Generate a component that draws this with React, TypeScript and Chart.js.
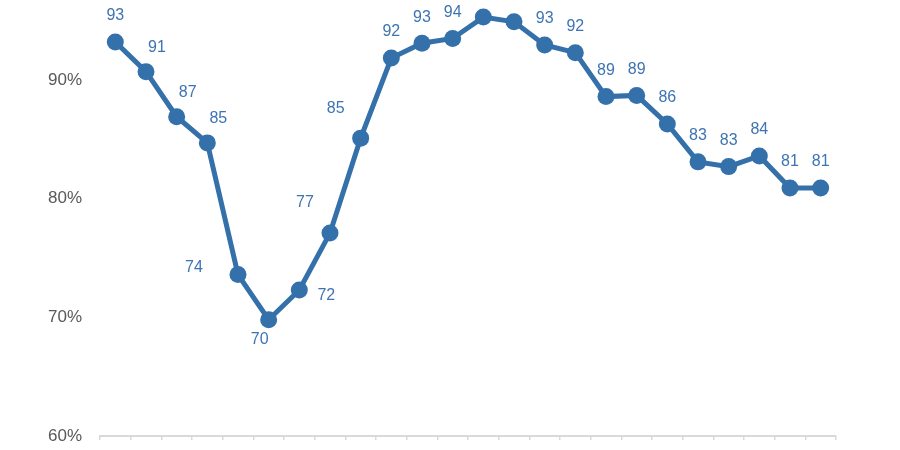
import React, { useEffect, useRef } from "react";
import { Chart, registerables } from "chart.js";

Chart.register(...registerables);

const categories: string[] = [
  "1", "2", "3", "4", "5", "6", "7", "8", "9", "10", "11", "12",
  "13", "14", "15", "16", "17", "18", "19", "20", "21", "22", "23", "24",
];

const values: number[] = [
  93.2, 90.7, 86.9, 84.7, 73.6, 69.8, 72.3, 77.1, 85.1, 91.85, 93.1, 93.5,
  95.3, 94.9, 92.95, 92.3, 88.6, 88.7, 86.3, 83.1, 82.7, 83.6, 80.9, 80.9,
];

const labelPlacement: string[] = [
  "above", "aboveRight", "aboveRight", "aboveRight", "left", "below", "right", "aboveLeft",
  "aboveLeft", "above", "above", "above", "above", "above", "above", "above",
  "above", "above", "above", "above", "above", "above", "above", "above",
];

const yTicks: number[] = [60, 70, 80, 90];

const LINE_COLOR = "#3470a9";
const LABEL_COLOR = "#3d74b2";
const TICK_COLOR = "#595959";
const AXIS_COLOR = "#d9d9d9";

const placementOffsets: Record<string, [number, number]> = {
  above: [0, -26],
  aboveRight: [11, -24],
  left: [-44, -7],
  below: [-9, 20],
  right: [27, 6],
  aboveLeft: [-25, -30],
};

const labelPlugin = {
  id: "pointLabels",
  afterDatasetsDraw(chart: any) {
    const ctx = chart.ctx;
    const meta = chart.getDatasetMeta(0);
    ctx.save();
    ctx.font = '16px "Liberation Sans", Arial, sans-serif';
    ctx.fillStyle = LABEL_COLOR;
    ctx.textAlign = "center";
    ctx.textBaseline = "middle";
    meta.data.forEach((pt: any, i: number) => {
      const [dx, dy] = placementOffsets[labelPlacement[i]] || placementOffsets.above;
      ctx.fillText(String(Math.round(values[i])), pt.x + dx, pt.y + dy);
    });
    ctx.restore();
  },
};

export default function App() {
  const canvasRef = useRef<HTMLCanvasElement | null>(null);

  useEffect(() => {
    if (!canvasRef.current) return;
    const chart = new Chart(canvasRef.current, {
      type: "line",
      data: {
        labels: categories,
        datasets: [
          {
            data: values,
            borderColor: LINE_COLOR,
            backgroundColor: LINE_COLOR,
            borderWidth: 5,
            pointRadius: 8.5,
            pointHoverRadius: 8.5,
            pointBackgroundColor: LINE_COLOR,
            pointBorderColor: LINE_COLOR,
            pointBorderWidth: 0,
            tension: 0,
            clip: false as any,
          },
        ],
      },
      options: {
        animation: false,
        responsive: false,
        maintainAspectRatio: false,
        layout: { autoPadding: false, padding: { left: 0, right: 64, top: 0, bottom: 0 } },
        plugins: {
          legend: { display: false },
          tooltip: { enabled: false },
        },
        scales: {
          x: {
            type: "category",
            offset: true,
            grid: {
              display: true,
              offset: true,
              drawOnChartArea: false,
              drawTicks: true,
              tickLength: 4,
              color: AXIS_COLOR,
              lineWidth: 1.5,
            },
            border: { display: true, color: AXIS_COLOR, width: 2 },
            ticks: { display: false },
            afterFit: (scale: any) => {
              scale.height = 14;
              scale.paddingLeft = 0;
              scale.paddingRight = 0;
            },
          },
          y: {
            type: "linear",
            min: 60,
            max: 96.74,
            grid: { display: false, drawTicks: false },
            border: { display: false },
            afterBuildTicks: (scale: any) => {
              scale.ticks = yTicks.map((v) => ({ value: v }));
            },
            ticks: {
              padding: 18,
              color: TICK_COLOR,
              font: { size: 17, family: '"Liberation Sans", Arial, sans-serif' },
              callback: (v: any) => `${v}%`,
            },
            afterFit: (scale: any) => {
              scale.width = 100;
              scale.paddingTop = 0;
              scale.paddingBottom = 0;
            },
          },
        },
      },
      plugins: [labelPlugin],
    });
    return () => chart.destroy();
  }, []);

  return (
    <div style={{ position: "absolute", left: 0, top: 0, width: 900, height: 450, background: "#ffffff" }}>
      <canvas ref={canvasRef} width={900} height={450} style={{ display: "block" }} />
    </div>
  );
}
